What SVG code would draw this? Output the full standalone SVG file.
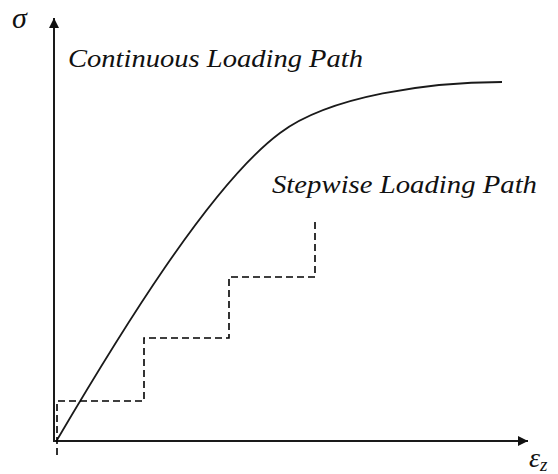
<svg xmlns="http://www.w3.org/2000/svg" width="558" height="474" viewBox="0 0 558 474">
<style>
.axis{stroke:#1a1a1a;stroke-width:2;fill:none}
.curve{stroke:#1a1a1a;stroke-width:1.8;fill:none}
.step{stroke:#000;stroke-width:1.6;fill:none;stroke-dasharray:7,4}
.lbl{font-family:"Liberation Serif","Times New Roman",serif;font-style:italic;fill:#111}
</style>
<defs>
<marker id="ah" viewBox="0 0 10 10" refX="10" refY="5" markerWidth="10" markerHeight="10" markerUnits="userSpaceOnUse" orient="auto">
<path d="M0,0 L10,5 L0,10 Z" fill="#111"/>
</marker>
</defs>
<g id="axes">
<line class="axis" x1="54" y1="442" x2="54" y2="18" marker-end="url(#ah)"/>
<line class="axis" x1="53" y1="441" x2="528" y2="441" marker-end="url(#ah)"/>
</g>
<g id="connectors">
<path id="continuous" class="curve" d="M57,440 C117,338 210,185 280,133 C330,95.5 430,82 502,82"/>
<path id="stepwise" class="step" d="M57,455 L57,401 L144,401 L144,338 L229,338 L229,277 L315,277 L315,222"/>
</g>
<g id="labels">
<text class="lbl" x="12" y="28" font-size="30">σ</text>
<text class="lbl" x="529" y="467" font-size="28">ε<tspan font-size="19" dy="4">z</tspan></text>
<text class="lbl" x="68" y="67" font-size="25" textLength="295" lengthAdjust="spacingAndGlyphs">Continuous Loading Path</text>
<text class="lbl" x="272" y="193" font-size="25" textLength="265" lengthAdjust="spacingAndGlyphs">Stepwise Loading Path</text>
</g>
</svg>
